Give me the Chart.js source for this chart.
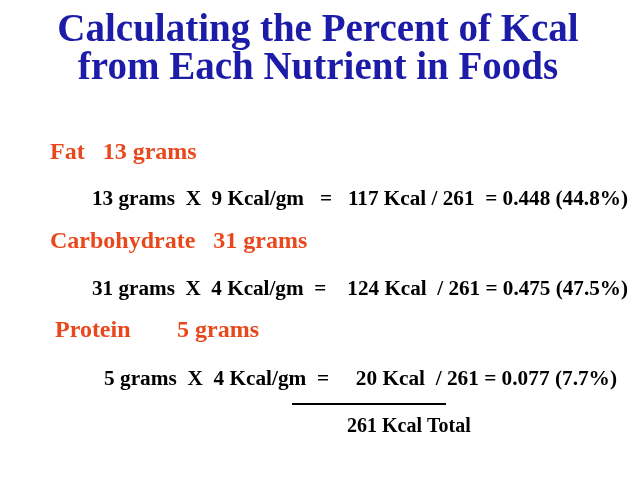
<!DOCTYPE html>
<html>
<head>
<meta charset="utf-8">
<script src="https://cdn.jsdelivr.net/npm/chart.js@4"></script>
<style>
  html, body { margin: 0; padding: 0; background: #fff; }
  #wrap { width: 638px; height: 479px; position: relative; }
</style>
</head>
<body>
<div id="wrap"><canvas id="slide"></canvas></div>
<script>
const titleLines = ['Calculating the Percent of Kcal', 'from Each Nutrient in Foods'];
const nutrients = ['Fat', 'Carbohydrate', 'Protein'];
const grams = [13, 31, 5];
const kcalPerGram = [9, 4, 4];
const kcal = [117, 124, 20];
const fractions = ['0.448', '0.475', '0.077'];
const percents = ['44.8%', '47.5%', '7.7%'];
const totalKcal = 261;

// text rows (layout only)
const headRows = [
  { x: 50, y: 153, gap: '   ' },
  { x: 50, y: 242, gap: '   ' },
  { x: 55, y: 331, gap: '       ' }
];
const calcRows = [
  { x: 92, y: 200, text: i => `${grams[i]} grams  X  ${kcalPerGram[i]} Kcal/gm   =   ${kcal[i]} Kcal / ${totalKcal}  = ${fractions[i]} (${percents[i]})` },
  { x: 92, y: 290, text: i => `${grams[i]} grams  X  ${kcalPerGram[i]} Kcal/gm  =    ${kcal[i]} Kcal  / ${totalKcal} = ${fractions[i]} (${percents[i]})` },
  { x: 104, y: 380, text: i => `${grams[i]} grams  X  ${kcalPerGram[i]} Kcal/gm  =     ${kcal[i]} Kcal  / ${totalKcal} = ${fractions[i]} (${percents[i]})` }
];

const serif = '"Liberation Serif", "Times New Roman", serif';

const slideText = {
  id: 'slideText',
  afterDraw(chart) {
    const ctx = chart.ctx;
    ctx.save();
    ctx.textBaseline = 'middle';

    ctx.fillStyle = '#1c1ca8';
    ctx.font = 'bold 39px ' + serif;
    ctx.textAlign = 'center';
    ctx.fillText(titleLines[0], 318, 31);
    ctx.fillText(titleLines[1], 318, 69);

    ctx.textAlign = 'left';
    nutrients.forEach((n, i) => {
      ctx.fillStyle = '#e8481c';
      ctx.font = 'bold 24px ' + serif;
      if (i === 2) {
        ctx.fillText(n, headRows[i].x, headRows[i].y);
        ctx.fillText(grams[i] + ' grams', 177, headRows[i].y);
      } else {
        ctx.fillText(n + headRows[i].gap + grams[i] + ' grams', headRows[i].x, headRows[i].y);
      }
      ctx.fillStyle = '#000';
      ctx.font = 'bold 20px ' + serif;
      const txt = calcRows[i].text(i);
      const end = i === 2 ? 617 : 628;
      const w = ctx.measureText(txt).width;
      ctx.save();
      ctx.translate(calcRows[i].x, calcRows[i].y);
      ctx.scale((end - calcRows[i].x) / w, 1);
      ctx.fillText(txt, 0, 0);
      ctx.restore();
    });

    ctx.strokeStyle = '#000';
    ctx.lineWidth = 2;
    ctx.beginPath();
    ctx.moveTo(292, 404);
    ctx.lineTo(446, 404);
    ctx.stroke();

    ctx.font = 'bold 20px ' + serif;
    ctx.fillText(totalKcal + ' Kcal Total', 347, 427);
    ctx.restore();
  }
};

new Chart(document.getElementById('slide'), {
  type: 'bar',
  data: { labels: nutrients, datasets: [{ data: kcal, backgroundColor: 'rgba(0,0,0,0)' }] },
  options: {
    responsive: true,
    maintainAspectRatio: false,
    animation: false,
    events: [],
    layout: { padding: 0 },
    plugins: { legend: { display: false }, tooltip: { enabled: false } },
    scales: { x: { display: false }, y: { display: false } }
  },
  plugins: [slideText]
});
</script>
</body>
</html>
